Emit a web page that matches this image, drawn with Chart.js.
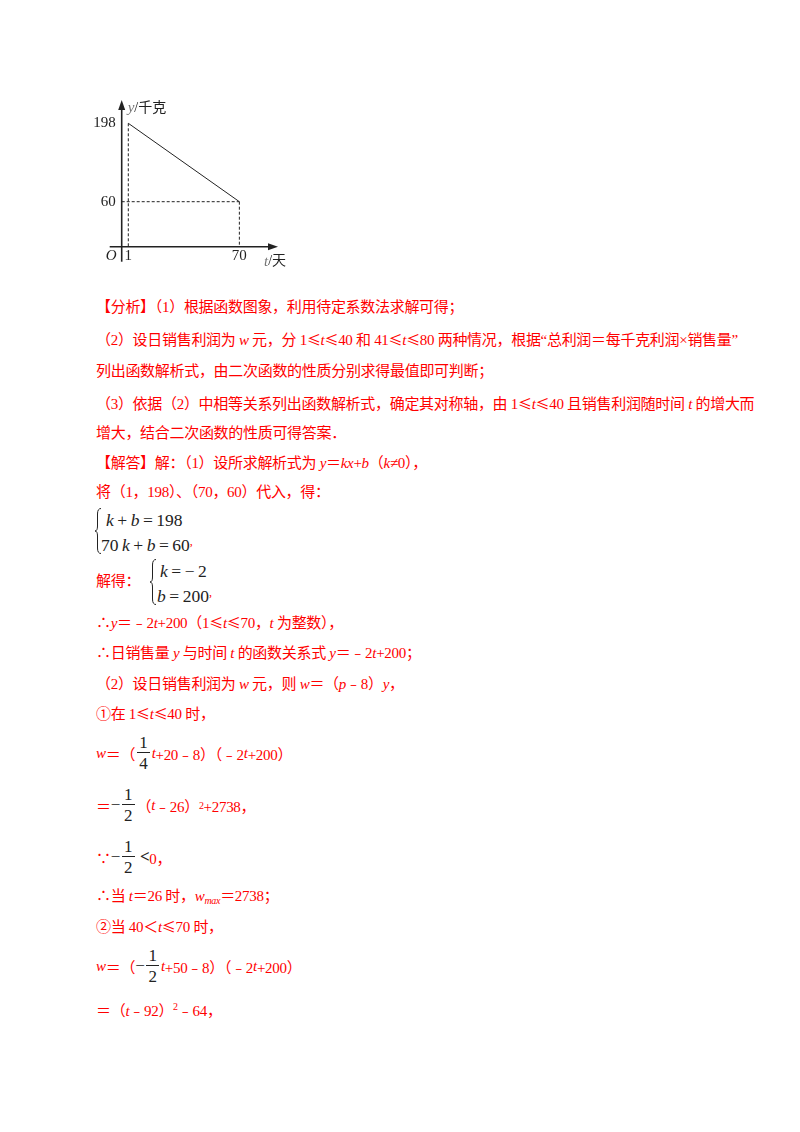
<!DOCTYPE html>
<html>
<head>
<meta charset="utf-8">
<script src="https://cdn.jsdelivr.net/npm/chart.js@4.4.1/dist/chart.umd.min.js"></script>
<style>
  html,body{margin:0;padding:0;background:#fff;}
  body{width:800px;height:1132px;position:relative;overflow:hidden;
       font-family:"Liberation Serif","Noto Sans CJK SC",serif;color:#f00;font-size:15px;}
  #chartBox{position:absolute;left:60px;top:80px;width:260px;height:200px;}
  .ln{position:absolute;left:96px;white-space:nowrap;line-height:20px;height:20px;letter-spacing:-0.3px;}
  .le{font-family:"Noto Sans CJK SC",sans-serif;font-size:14px;}
  i{font-style:italic;font-family:"Liberation Serif",serif;}
  .fl{position:absolute;left:96px;white-space:nowrap;display:flex;align-items:center;height:40px;letter-spacing:-0.3px;}
  .frac{display:inline-flex;flex-direction:column;align-items:center;color:#222;
        font-family:"Liberation Serif",serif;font-size:17px;line-height:17px;margin:0 2px;letter-spacing:0;}
  .frac .n{border-bottom:1px solid #222;padding:0 2px 1px 2px;}
  .frac .d{padding-top:2px;}
  .bk{color:#222;font-family:"Liberation Serif",serif;font-size:17px;}
  sup{font-size:10px;vertical-align:6px;}
  sub{font-size:10px;vertical-align:-3px;}
  .sys{position:absolute;color:#222;font-family:"Liberation Serif",serif;font-size:17.5px;line-height:20px;white-space:nowrap;}
  .brace{position:absolute;}
</style>
</head>
<body>
<div id="chartBox"><canvas id="c"></canvas></div>

<div class="ln" style="top:297px;">【分析】（1）根据函数图象，利用待定系数法求解可得；</div>
<div class="ln" style="top:329px;">（2）设日销售利润为 <i>w</i> 元，分 1<span class="le">≤</span><i>t</i><span class="le">≤</span>40 和 41<span class="le">≤</span><i>t</i><span class="le">≤</span>80 两种情况，根据“总利润＝每千克利润×销售量”</div>
<div class="ln" style="top:361px;">列出函数解析式，由二次函数的性质分别求得最值即可判断；</div>
<div class="ln" style="top:393px;">（3）依据（2）中相等关系列出函数解析式，确定其对称轴，由 1<span class="le">≤</span><i>t</i><span class="le">≤</span>40 且销售利润随时间 <i>t</i> 的增大而</div>
<div class="ln" style="top:423px;">增大，结合二次函数的性质可得答案．</div>
<div class="ln" style="top:453px;">【解答】解：（1）设所求解析式为 <i>y</i>＝<i>kx</i>+<i>b</i>（<i>k</i>≠0），</div>
<div class="ln" style="top:482px;">将（1，198）、（70，60）代入，得：</div>

<svg class="brace" style="left:94px;top:508px;" width="9" height="46" viewBox="0 0 9 46">
  <path d="M7,0.5 Q3.5,0.5 3.5,6 L3.5,18 Q3.5,23 1,23 Q3.5,23 3.5,28 L3.5,40 Q3.5,45.5 7,45.5" fill="none" stroke="#222" stroke-width="1"/>
</svg>
<div class="sys" style="left:106px;top:510px;"><i>k</i>&thinsp;+&thinsp;<i>b</i>&thinsp;=&thinsp;198</div>
<div class="sys" style="left:101px;top:531px;">70&thinsp;<i>k</i>&thinsp;+&thinsp;<i>b</i>&thinsp;=&thinsp;60<span style="color:#f00;font-size:12px;vertical-align:6px;">,</span></div>

<div class="ln" style="top:571px;">解得：</div>
<svg class="brace" style="left:149px;top:559px;" width="9" height="46" viewBox="0 0 9 46">
  <path d="M7,0.5 Q3.5,0.5 3.5,6 L3.5,18 Q3.5,23 1,23 Q3.5,23 3.5,28 L3.5,40 Q3.5,45.5 7,45.5" fill="none" stroke="#222" stroke-width="1"/>
</svg>
<div class="sys" style="left:160px;top:561px;"><i>k</i>&thinsp;=&thinsp;−&thinsp;2</div>
<div class="sys" style="left:157px;top:582px;"><i>b</i>&thinsp;=&thinsp;200<span style="color:#f00;font-size:12px;vertical-align:6px;">,</span></div>

<div class="ln" style="top:612px;">∴<i>y</i>＝﹣2<i>t</i>+200（1<span class="le">≤</span><i>t</i><span class="le">≤</span>70，<i>t</i> 为整数），</div>
<div class="ln" style="top:643px;">∴日销售量 <i>y</i> 与时间 <i>t</i> 的函数关系式 <i>y</i>＝﹣2<i>t</i>+200；</div>
<div class="ln" style="top:674px;">（2）设日销售利润为 <i>w</i> 元，则 <i>w</i>＝（<i>p</i>﹣8）<i>y</i>，</div>
<div class="ln" style="top:703px;">①在 1<span class="le">≤</span><i>t</i><span class="le">≤</span>40 时，</div>

<div class="fl" style="top:733px;"><i>w</i>＝（<span class="frac"><span class="n">1</span><span class="d">4</span></span><i>t</i>+20﹣8）（﹣2<i>t</i>+200）</div>
<div class="fl" style="top:785px;">＝<span class="bk">−</span><span class="frac"><span class="n">1</span><span class="d">2</span></span>（<i>t</i>﹣26）<sup>2</sup>+2738，</div>
<div class="fl" style="top:837px;">∵<span class="bk">−</span><span class="frac"><span class="n">1</span><span class="d">2</span></span>&nbsp;<span class="bk" style="font-weight:bold;">&lt;</span>0，</div>

<div class="ln" style="top:886px;">∴当 <i>t</i>＝26 时，<i>w<sub>max</sub></i>＝2738；</div>
<div class="ln" style="top:916px;">②当 40＜<i>t</i><span class="le">≤</span>70 时，</div>
<div class="fl" style="top:946px;"><i>w</i>＝（<span class="bk">−</span><span class="frac"><span class="n">1</span><span class="d">2</span></span><i>t</i>+50﹣8）（﹣2<i>t</i>+200）</div>
<div class="ln" style="top:997px;">＝（<i>t</i>﹣92）<sup>2</sup>﹣64，</div>

<script>
// ---- data ----
const tValues = [1, 70];          // day t
const yValues = [198, 60];        // daily sales y (kg)
const xTickLabels = ['1', '70'];
const yTickLabels = ['198', '60'];
const xAxisTitle = ['t', '/天'];
const yAxisTitle = ['y', '/千克'];
const originLabel = 'O';

const X_MIN = -3.1, X_MAX = 94;
const Y_MIN = -19.2, Y_MAX = 239;

const ink = '#222';
const pts = tValues.map((t, i) => ({x: t, y: yValues[i]}));

const axesPlugin = {
  id: 'axesPlugin',
  afterDatasetsDraw(chart) {
    const {ctx, scales: {x, y}} = chart;
    const ax = x.getPixelForValue(X_MIN);
    const ay = y.getPixelForValue(Y_MIN);
    const top = y.getPixelForValue(Y_MAX);
    const right = x.getPixelForValue(X_MAX);
    ctx.save();
    ctx.strokeStyle = ink; ctx.fillStyle = ink; ctx.lineWidth = 1.6;
    // y axis
    ctx.beginPath(); ctx.moveTo(ax, ay + 15); ctx.lineTo(ax, top + 4); ctx.stroke();
    ctx.beginPath(); ctx.moveTo(ax, top); ctx.lineTo(ax - 3.5, top + 10); ctx.lineTo(ax + 3.5, top + 10); ctx.closePath(); ctx.fill();
    // x axis
    ctx.beginPath(); ctx.moveTo(ax - 12, ay); ctx.lineTo(right - 4, ay); ctx.stroke();
    ctx.beginPath(); ctx.moveTo(right, ay); ctx.lineTo(right - 10, ay - 3.5); ctx.lineTo(right - 10, ay + 3.5); ctx.closePath(); ctx.fill();
    // tick labels
    ctx.font = '15px "Liberation Serif", serif';
    ctx.textAlign = 'right'; ctx.textBaseline = 'middle';
    yValues.forEach((v, i) => ctx.fillText(yTickLabels[i], ax - 6, y.getPixelForValue(v)));
    ctx.textAlign = 'center'; ctx.textBaseline = 'top';
    tValues.forEach((v, i) => ctx.fillText(xTickLabels[i], x.getPixelForValue(v), ay + 2));
    ctx.font = 'italic 15px "Liberation Serif", serif';
    ctx.textAlign = 'right';
    ctx.fillText(originLabel, ax - 5, ay + 2);
    // axis titles
    ctx.textAlign = 'left'; ctx.textBaseline = 'middle';
    let tx = right - 14, ty = ay + 15;
    ctx.font = 'italic 15px "Liberation Serif", serif';
    ctx.fillStyle = '#777';
    ctx.fillText(xAxisTitle[0], tx, ty);
    tx += ctx.measureText(xAxisTitle[0]).width;
    ctx.fillStyle = ink;
    ctx.font = '14px "Liberation Serif","Noto Sans CJK SC", sans-serif';
    ctx.fillText(xAxisTitle[1], tx, ty);
    tx = ax + 6; ty = top + 8;
    ctx.font = 'italic 15px "Liberation Serif", serif';
    ctx.fillStyle = '#777';
    ctx.fillText(yAxisTitle[0], tx, ty);
    tx += ctx.measureText(yAxisTitle[0]).width;
    ctx.fillStyle = ink;
    ctx.font = '14px "Liberation Serif","Noto Sans CJK SC", sans-serif';
    ctx.fillText(yAxisTitle[1], tx, ty);
    ctx.restore();
  }
};

const dashed = {borderColor: ink, borderWidth: 1, borderDash: [3, 2], pointRadius: 0, fill: false, tension: 0};

new Chart(document.getElementById('c'), {
  type: 'scatter',
  data: {
    datasets: [
      {data: pts, showLine: true, borderColor: ink, borderWidth: 1, pointRadius: 0, fill: false},
      Object.assign({data: [{x: tValues[0], y: yValues[0]}, {x: tValues[0], y: Y_MIN}], showLine: true}, dashed),
      Object.assign({data: [{x: X_MIN, y: yValues[1]}, {x: tValues[1], y: yValues[1]}], showLine: true}, dashed),
      Object.assign({data: [{x: tValues[1], y: yValues[1]}, {x: tValues[1], y: Y_MIN}], showLine: true}, dashed)
    ]
  },
  options: {
    responsive: true, maintainAspectRatio: false, animation: false,
    layout: {padding: {left: 61.7, top: 20, right: 42, bottom: 33.3}},
    plugins: {legend: {display: false}, tooltip: {enabled: false}},
    scales: {
      x: {type: 'linear', display: false, min: X_MIN, max: X_MAX},
      y: {type: 'linear', display: false, min: Y_MIN, max: Y_MAX}
    }
  },
  plugins: [axesPlugin]
});
</script>
</body>
</html>
